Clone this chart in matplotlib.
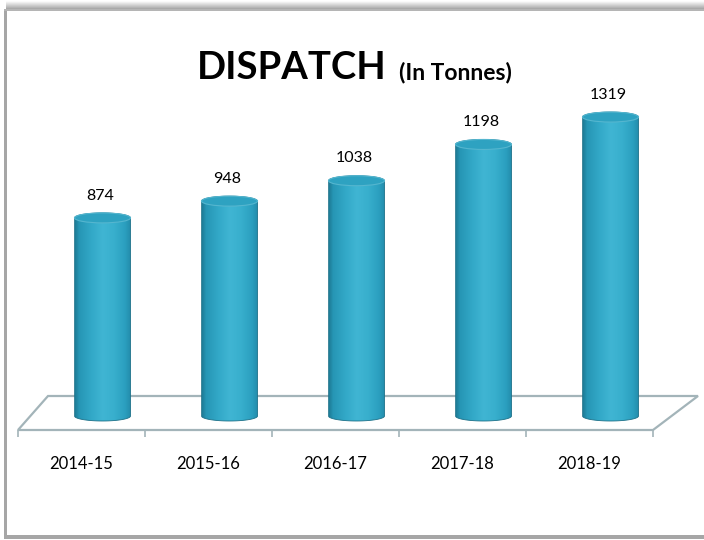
import numpy as np
import matplotlib
matplotlib.use("Agg")
import matplotlib.pyplot as plt
from matplotlib.patches import Ellipse, Polygon, PathPatch, Rectangle
from matplotlib.path import Path
from matplotlib.colors import LinearSegmentedColormap

plt.rcParams["font.family"] = ["Lato", "DejaVu Sans"]

years = ["2014-15", "2015-16", "2016-17", "2017-18", "2018-19"]
dispatch = [874, 948, 1038, 1198, 1319]

W, H = 704, 540
fig = plt.figure(figsize=(W / 100, H / 100), dpi=100)
fig.patch.set_facecolor("white")

# ── frame / shadow, drawn in pixel space ─────────────────────────────
bg = fig.add_axes([0, 0, 1, 1], zorder=0)
bg.set_xlim(0, W)
bg.set_ylim(H, 0)
bg.axis("off")
shade = np.linspace(1.0, 0.0, 40).reshape(-1, 1)
shade_cmap = LinearSegmentedColormap.from_list("shade", ["#9a9a9a", "#ffffff"])
bg.imshow(shade, extent=[6, W, 10, 1], cmap=shade_cmap, aspect="auto",
          vmin=0, vmax=1, zorder=1)
bg.add_patch(Rectangle((4, 10), 2.5, 527, color="#a6a6a6", lw=0, zorder=2))
bg.add_patch(Rectangle((4, 535), W, 4, color="#a6a6a6", lw=0, zorder=2))
bg.add_patch(Rectangle((4, 9), W, 1.5, color="#b5b5b5", lw=0, zorder=2))

bg.text(197, 79, "DISPATCH", fontsize=27.5, fontweight="bold",
        ha="left", va="baseline", color="black")
bg.text(399, 79, "(In Tonnes)", fontsize=16.5, fontweight="bold",
        ha="left", va="baseline", color="black")

# ── chart area ───────────────────────────────────────────────────────
ax = fig.add_axes([18 / W, (H - 430) / H, 635 / W, 340 / H], zorder=1)
ax.patch.set_alpha(0)
xlim = (-0.5, len(years) - 0.5)
ylim = (0, 1500)
px_x = 635 / (xlim[1] - xlim[0])      # pixels per x unit
px_y = 340 / (ylim[1] - ylim[0])      # pixels per y unit

# floor of the 3D plot
back_dy = 34 / px_y
floor = Polygon([(xlim[0], 0), (xlim[1], 0),
                 (xlim[1] + 45 / px_x, back_dy), (xlim[0] + 30 / px_x, back_dy)],
                closed=True, facecolor="white", edgecolor="#a3b4b9", lw=1.6,
                zorder=1, clip_on=False)
ax.add_patch(floor)

cyl_cmap = LinearSegmentedColormap.from_list(
    "cyl", [(0.0, "#1e7d98"), (0.07, "#2696b5"), (0.3, "#33a9c8"),
            (0.5, "#40b5d3"), (0.7, "#38afcd"), (0.9, "#2b9fbf"), (1.0, "#238cab")])

bar_w = 56 / px_x
ell_h = 10 / px_y
base = 14 / px_y
shift = 21 / px_x
t = np.linspace(0, np.pi, 40)

for i, v in enumerate(dispatch):
    xc = i + shift
    top = base + v
    # silhouette: sides + upper arc of the lid + lower arc of the base
    upper = np.column_stack([xc - bar_w / 2 * np.cos(t), top + ell_h / 2 * np.sin(t)])
    lower = np.column_stack([xc + bar_w / 2 * np.cos(t), base - ell_h / 2 * np.sin(t)])
    verts = np.vstack([lower[-1:], upper, lower, lower[-1:]])
    body = PathPatch(Path(verts, closed=True), facecolor="none",
                     edgecolor="#1d7189", lw=0.6, zorder=3)
    ax.add_patch(body)
    grad = np.linspace(0, 1, 100).reshape(1, -1)
    im = ax.imshow(grad, extent=[xc - bar_w / 2, xc + bar_w / 2,
                                 base - ell_h, top + ell_h],
                   cmap=cyl_cmap, aspect="auto", zorder=2, origin="lower")
    im.set_clip_path(body)
    ax.add_patch(Ellipse((xc, top), bar_w, ell_h, facecolor="#2ea2c1",
                         edgecolor="#55b6cf", lw=0.8, zorder=4))
    ax.annotate(f"{v}", (xc - 0.02, top), xytext=(0, 16), textcoords="offset points",
                ha="center", va="center", fontsize=11.5, color="black")

ax.set_xlim(*xlim)
ax.set_ylim(*ylim)
for s in ax.spines.values():
    s.set_visible(False)
ax.set_yticks([])
ax.set_xticks(range(len(years)))
ax.set_xticklabels(years, fontsize=12)
ax.tick_params(axis="x", which="major", length=0, pad=19)
ax.set_xticks(np.arange(xlim[0], xlim[1] + 0.01, 1.0), minor=True)
ax.tick_params(axis="x", which="minor", length=5, width=1.2, color="#a3b4b9")

fig.savefig("out.png", dpi=100)
